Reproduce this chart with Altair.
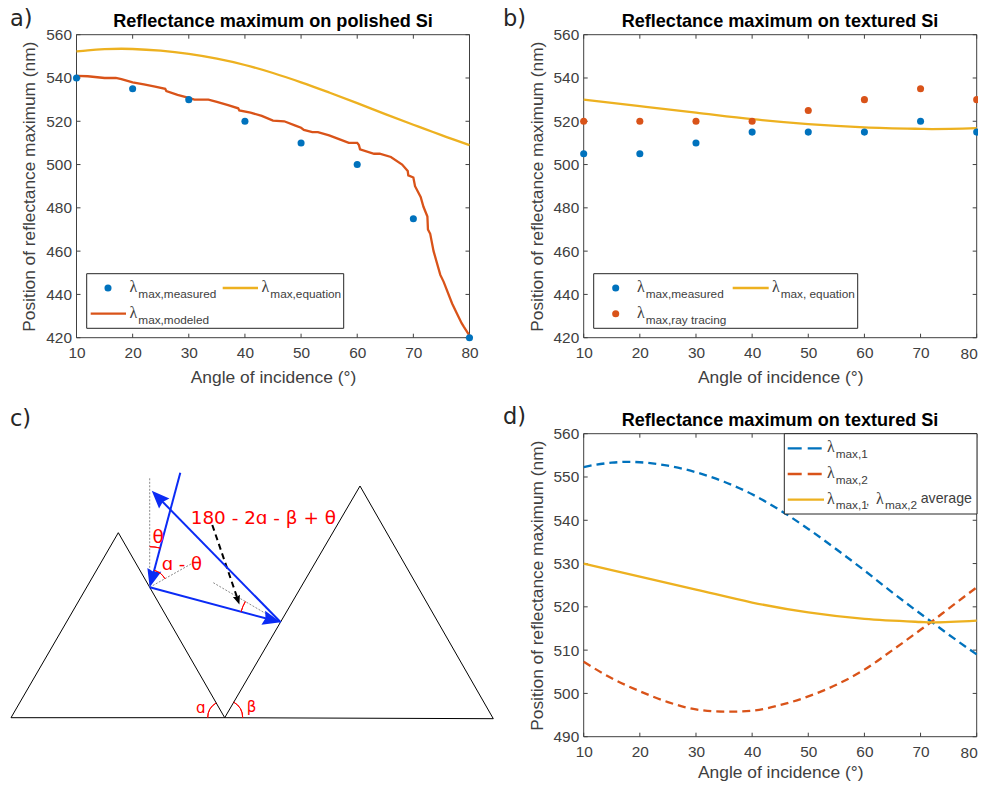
import altair as alt
import pandas as pd

BLUE, ORANGE, YELLOW = "#0072BD", "#D95319", "#EDB120"
AX = "#404040"
FONT = "Liberation Sans"
W, H = 393, 303

# ---- data ----
angles = [10, 20, 30, 40, 50, 60, 70, 80]
a_measured = [540, 535, 530, 520, 510, 500, 475, 420]
b_measured = [505, 505, 510, 515, 515, 515, 520, 515]
b_raytrace = [520, 520, 520, 520, 525, 530, 535, 530]

eq1_x = [10, 12, 15, 18, 20, 25, 30, 35, 40, 45, 50, 55, 60, 65, 70, 72, 75, 80]
eq1_y = [552.3, 552.8, 553.3, 553.5, 553.4, 552.6, 551.1, 548.9, 546, 542.3, 538, 533.3, 528.4, 523.3, 518.4, 516.5, 513.6, 509]
eq2_x = [10, 15, 20, 25, 30, 35, 37, 40, 45, 50, 55, 60, 65, 70, 72, 75, 80]
eq2_y = [507.3, 503.5, 500.5, 498, 496.3, 495.8, 495.8, 496, 497.3, 499.3, 502, 505.5, 510, 514.7, 516.6, 519.6, 524.5]
avg_x = [10, 20, 30, 40, 50, 60, 70, 72, 80]
avg_y = [530, 527, 524, 521, 518.7, 517.2, 516.5, 516.4, 516.8]

model_x = [10, 12, 15, 17, 18, 20, 22, 24, 25.8, 26, 28, 30, 31, 33.5, 35, 37, 38.8, 39, 41, 43, 45, 47, 49,
           50, 50.5, 52, 53, 55, 57, 58.5, 60, 60.3, 60.5, 63, 64, 66, 68, 69, 69.1, 70, 70.3, 71.3, 71.8, 72.5,
           72.6, 73, 73.6, 74.8, 75.4, 76.9, 77.8, 78.6, 79, 80]
model_y = [541, 540.8, 540, 540, 539.5, 538, 537, 536, 535, 534, 532.2, 530.8, 530, 530, 529, 527.5, 526, 525, 524,
           522.5, 520.3, 520, 518, 517, 516, 515, 515, 513.5, 511.5, 510, 510, 509, 507, 505, 505, 503.5, 500, 497,
           495, 494, 490, 485, 480.5, 476, 470, 468, 460, 449, 445.8, 435.8, 431, 426.7, 425, 421]

x_ticks = [10, 20, 30, 40, 50, 60, 70, 80]
y_ticks_abc = [420, 440, 460, 480, 500, 520, 540, 560]
y_ticks_d = [490, 500, 510, 520, 530, 540, 550, 560]

# diagram, in the diagram's own units
tri_lines = [(11, 717.7, 118.3, 532.7), (118.3, 532.7, 224.7, 717.7), (224.7, 717.7, 360, 486),
             (360, 486, 493.3, 718.7), (11, 717.7, 224.7, 717.7), (224.7, 717.7, 493.3, 718.7)]
ray_lines = [(180.3, 472.7, 150.8, 583), (149.7, 587.3, 275, 620.8), (280.7, 622.3, 155, 494)]
grey_lines = [(149.7, 478.3, 149.7, 587), (149.7, 587.3, 193.3, 562.7), (213.3, 582.7, 280.7, 622.3)]
black_dash = [(212.3, 525, 238, 600)]
ray_heads = [(152, 578.6, 195), (272, 620, 105), (158, 497.1, 316)]
black_heads = [(237.9, 600.2, 161)]
arcs = [(224.7, 717.7, 17, 270, 330), (224.7, 717.7, 18, 30, 90), (149.7, 587.3, 40.6, 0, 15),
        (149.7, 587.3, 17.5, 15, 60.6), (280.7, 622.3, 41, 285, 300.4)]
red_texts = [("180 - 2ɑ - β + θ", 190.7, 524, 18.4), ("θ", 152.5, 542.7, 18.5), ("ɑ - θ", 161.7, 570, 18),
             ("ɑ", 196, 712.5, 15), ("β", 246.7, 711.7, 15)]


def segs(rows):
    return pd.DataFrame(rows, columns=["x", "y", "x2", "y2"])


def axes_x(right_panel=False, title_pad=7):
    kw = {"labelExpr": "datum.value == 80 ? '' : datum.label"} if right_panel else {}
    return alt.Axis(values=x_ticks, ticks=False, domain=False, grid=False, labelPadding=8, labelFontSize=15.4,
                    labelFont=FONT, labelColor=AX, title="Angle of incidence (°)", titleFont=FONT, titleFontSize=17.4,
                    titleFontWeight="normal", titleColor=AX, titlePadding=title_pad, labelFlush=False, **kw)


def axes_y(vals):
    return alt.Axis(values=vals, ticks=False, domain=False, grid=False, labelPadding=5, labelFontSize=15.4,
                    labelFont=FONT, labelColor=AX, title="Position of reflectance maximum (nm)", titleFont=FONT,
                    titleFontSize=17.3, titleFontWeight="normal", titleColor=AX, titlePadding=7, labelOverlap=False)


class Frame:
    def __init__(self, ydom, yticks, right_panel=False, title_pad=7):
        self.xs = alt.Scale(domain=[10, 80], nice=False, zero=False)
        self.ys = alt.Scale(domain=ydom, nice=False, zero=False)
        self.yticks = yticks
        self.right_panel = right_panel
        self.title_pad = title_pad

    def X(self, f="x:Q"):
        return alt.X(f, scale=self.xs, axis=axes_x(self.right_panel, self.title_pad))

    def Y(self, f="y:Q"):
        return alt.Y(f, scale=self.ys, axis=axes_y(self.yticks))

    def line(self, xv, yv, color, dash=None, interpolate="monotone"):
        kw = {"strokeDash": dash} if dash else {}
        return alt.Chart(pd.DataFrame({"x": xv, "y": yv})).mark_line(
            color=color, strokeWidth=2.3, interpolate=interpolate, **kw).encode(x=self.X(), y=self.Y())

    def dots(self, xv, yv, color):
        return alt.Chart(pd.DataFrame({"x": xv, "y": yv})).mark_circle(color=color, size=50, opacity=1).encode(
            x=self.X(), y=self.Y())

    def base(self):
        tx = pd.DataFrame({"v": x_ticks})
        ty = pd.DataFrame({"v": self.yticks})
        layers = [alt.Chart(pd.DataFrame({"a": [0]})).mark_rect(fill="transparent", stroke=AX, strokeWidth=1).encode(
            x=alt.value(0), x2=alt.value(W), y=alt.value(0), y2=alt.value(H))]
        for y0, y1 in [(H, H - 4), (0, 4)]:
            layers.append(alt.Chart(tx).mark_rule(color=AX, strokeWidth=1).encode(
                x=self.X("v:Q"), y=alt.value(y0), y2=alt.value(y1)))
        for x0, x1 in [(0, 4), (W, W - 4)]:
            layers.append(alt.Chart(ty).mark_rule(color=AX, strokeWidth=1).encode(
                y=self.Y("v:Q"), x=alt.value(x0), x2=alt.value(x1)))
        if self.right_panel:
            # the last tick label has to stay inside the page, so it ends at the frame's corner
            layers.append(alt.Chart(pd.DataFrame({"a": [0]})).mark_text(
                text="80", align="right", baseline="alphabetic", fontSize=15.4, font=FONT, color=AX).encode(
                x=alt.value(W + 1), y=alt.value(H + 21)))
        return layers


def val_text(s, px, py, size, font=FONT, color=AX, weight="normal", ox=0, oy=0, align="left"):
    return alt.Chart(pd.DataFrame({"a": [0]})).mark_text(
        text=s, align=align, baseline="alphabetic", fontSize=size, font=font, color=color, fontWeight=weight).encode(
        x=alt.value(px - ox), y=alt.value(py - oy))


def legend(box, items, ox, oy):
    x0, y0, x1, y1 = box
    ls = [alt.Chart(pd.DataFrame({"a": [0]})).mark_rect(fill="white", stroke="#262626", strokeWidth=1).encode(
        x=alt.value(x0 - ox), x2=alt.value(x1 - ox), y=alt.value(y0 - oy), y2=alt.value(y1 - oy))]
    for it in items:
        kind = it[0]
        if kind == "dot":
            _, c, px, py = it
            ls.append(alt.Chart(pd.DataFrame({"a": [0]})).mark_circle(color=c, size=50, opacity=1).encode(
                x=alt.value(px - ox), y=alt.value(py - oy)))
        elif kind == "line":
            _, c, a, b, py, dash = it
            kw = {"strokeDash": dash} if dash else {}
            ls.append(alt.Chart(pd.DataFrame({"a": [0]})).mark_rule(color=c, strokeWidth=2.3, **kw).encode(
                x=alt.value(a - ox), x2=alt.value(b - ox), y=alt.value(py - oy)))
        elif kind == "lam":
            _, px, py = it
            ls.append(val_text("λ", px, py, 16, font="Liberation Serif", ox=ox, oy=oy))
        elif kind == "sub":
            _, s, px, py = it
            ls.append(val_text(s, px, py, 11.8, ox=ox, oy=oy))
        elif kind == "txt":
            _, s, px, py = it
            ls.append(val_text(s, px, py, 14.2, ox=ox, oy=oy))
    return ls


def title(s, cx_page, ox, base, oy):
    return val_text(s, cx_page, base, 18.1, color="black", weight="bold", ox=ox, oy=oy, align="center")


PANEL = dict(font="DejaVu Sans", color="#262626")
LD = [14, 6]

# ---- panel a ----
ox, oy = 76.5, 34.7
fr = Frame([420, 560], y_ticks_abc)
a_lay = fr.base() + [
    fr.line(eq1_x, eq1_y, YELLOW), fr.line(model_x, model_y, ORANGE, interpolate="linear"),
    fr.dots(angles, a_measured, BLUE),
] + legend((86.7, 273.7, 343.7, 328.3), [
    ("dot", BLUE, 108, 288), ("lam", 129.5, 292), ("sub", "max,measured", 138.3, 298),
    ("line", YELLOW, 222.7, 258, 288, None), ("lam", 261.5, 292), ("sub", "max,equation", 270.3, 298),
    ("line", ORANGE, 90.7, 126, 313.7, None), ("lam", 129.5, 317.7), ("sub", "max,modeled", 138.3, 323.7),
], ox, oy) + [val_text("a)", 10, 26, 22.5, ox=ox, oy=oy, **PANEL),
              title("Reflectance maximum on polished Si", 273, ox, 27, oy)]
a = alt.layer(*a_lay).properties(width=W, height=H)

# ---- panel b ----
ox, oy = 583.7, 34.7
fr = Frame([420, 560], y_ticks_abc, right_panel=True)
b_lay = fr.base() + [
    fr.line(avg_x, avg_y, YELLOW), fr.dots(angles, b_measured, BLUE), fr.dots(angles, b_raytrace, ORANGE),
] + legend((593.7, 273.7, 857.7, 328.3), [
    ("dot", BLUE, 615.7, 288), ("lam", 637, 292), ("sub", "max,measured", 645.7, 298),
    ("line", YELLOW, 732.7, 768.7, 288, None), ("lam", 772, 292), ("sub", "max, equation", 780.7, 298),
    ("dot", ORANGE, 615.7, 313.7), ("lam", 637, 317.7), ("sub", "max,ray tracing", 645.7, 323.7),
], ox, oy) + [val_text("b)", 503, 26, 22.5, ox=ox, oy=oy, **PANEL),
              title("Reflectance maximum on textured Si", 780, ox, 27, oy)]
b = alt.layer(*b_lay).properties(width=W, height=H)

# ---- panel d ----
ox, oy = 583.7, 433.7
fr = Frame([490, 560], y_ticks_d, right_panel=True, title_pad=3)
d_lay = fr.base() + [
    fr.line(eq1_x, eq1_y, BLUE, [8, 5]), fr.line(eq2_x, eq2_y, ORANGE, [8, 5]), fr.line(avg_x, avg_y, YELLOW),
] + legend((784.3, 433.7, 977, 514), [
    ("line", BLUE, 787.7, 824, 448.3, LD), ("lam", 827, 452.3), ("sub", "max,1", 835.7, 457.7),
    ("line", ORANGE, 787.7, 824, 474, LD), ("lam", 827, 478), ("sub", "max,2", 835.7, 483.6),
    ("line", YELLOW, 787.7, 824, 499.7, None), ("lam", 827, 503.7), ("sub", "max,1", 835.7, 509),
    ("sub", ",", 866, 505), ("lam", 876, 503.7), ("sub", "max,2", 885, 509), ("txt", "average", 920.7, 502.7),
], ox, oy) + [val_text("d)", 503, 424, 22.5, ox=ox, oy=oy, **PANEL),
              title("Reflectance maximum on textured Si", 780, ox, 426, oy)]
d = alt.layer(*d_lay).properties(width=W, height=H)

# ---- panel c: the diagram ----
ox, oy = 76.5, 433.7
cx = alt.Scale(domain=[ox, ox + W], nice=False, zero=False)
cy = alt.Scale(domain=[oy + H, oy], nice=False, zero=False)


def seg_layer(rows, color, width, dash=None):
    kw = {"strokeDash": dash} if dash else {}
    return alt.Chart(segs(rows)).mark_rule(color=color, strokeWidth=width, **kw).encode(
        x=alt.X("x:Q", scale=cx, axis=None), y=alt.Y("y:Q", scale=cy, axis=None), x2="x2:Q", y2="y2:Q")


HEAD = "M0,-1 L0.8,1 L0,0.75 L-0.8,1 Z"


def head_layer(rows, color, size):
    layers = []
    for hx, hy, ang in rows:
        layers.append(alt.Chart(pd.DataFrame({"x": [hx], "y": [hy]})).mark_point(
            shape=HEAD, filled=True, color=color, opacity=1, size=size, angle=ang, strokeWidth=0).encode(
            x=alt.X("x:Q", scale=cx, axis=None), y=alt.Y("y:Q", scale=cy, axis=None)))
    return layers


def arc_layer(ax_, ay_, r, t0, t1):
    return alt.Chart(pd.DataFrame({"x": [ax_], "y": [ay_]})).mark_arc(
        radius=r, radius2=r, theta=t0 * 3.14159265 / 180, theta2=t1 * 3.14159265 / 180, fill="transparent",
        stroke="#FF0000", strokeWidth=1).encode(x=alt.X("x:Q", scale=cx, axis=None), y=alt.Y("y:Q", scale=cy, axis=None))


c_lay = [seg_layer(tri_lines, "black", 1), seg_layer(grey_lines, "#8a8a8a", 1, [2, 1.5]),
         seg_layer(black_dash, "black", 2, [6, 4]), seg_layer(ray_lines, "#0B2BF5", 2)]
c_lay += head_layer(black_heads, "black", 85) + head_layer(ray_heads, "#0B2BF5", 324)
c_lay += [arc_layer(*arc) for arc in arcs]
for s, tx_, ty_, fs in red_texts:
    c_lay.append(alt.Chart(pd.DataFrame({"x": [tx_], "y": [ty_]})).mark_text(
        text=s, align="left", baseline="alphabetic", font="DejaVu Sans", fontSize=fs, color="#FF0000").encode(
        x=alt.X("x:Q", scale=cx, axis=None), y=alt.Y("y:Q", scale=cy, axis=None)))
c_lay.append(val_text("c)", 10, 426, 22.5, ox=ox, oy=oy, **PANEL))
c = alt.layer(*c_lay).properties(width=W, height=H)

PAD_L, PAD_T = 68.5, 26.7
chart = alt.concat(a, b, c, d, columns=2, spacing=alt.RowColnumber(row=96, column=114.2), bounds="flush").properties(
    background="white", autosize=alt.AutoSizeParams(type="none"),
    padding={"left": PAD_L, "top": PAD_T, "right": 970 - PAD_L, "bottom": 775 - PAD_T}
).configure_view(strokeWidth=0)

chart.save("out.html", embed_options={"renderer": "svg", "actions": False})
